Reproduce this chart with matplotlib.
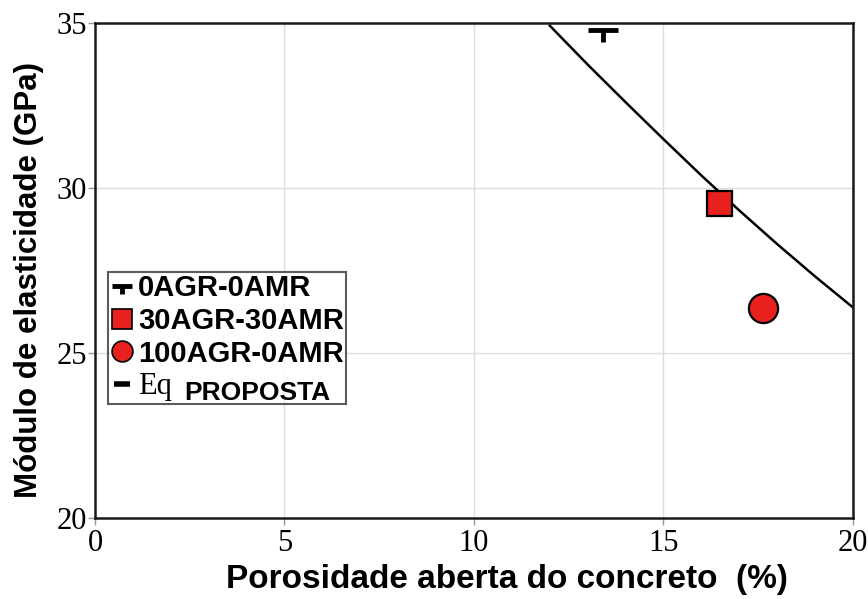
import matplotlib.pyplot as plt
import numpy as np
from matplotlib.path import Path
from matplotlib.lines import Line2D

# measured points (porosity %, modulus GPa)
por_0agr = [13.4]
mod_0agr = [34.78]
por_30agr = [16.46]
mod_30agr = [29.54]
por_100agr = [17.63]
mod_100agr = [26.35]

# proposed equation, sampled along its curve
por_eq = [12.0, 13.0, 14.0, 15.0, 16.0, 17.0, 18.0, 19.0, 20.0]
mod_eq = [34.92, 33.74, 32.60, 31.48, 30.38, 29.32, 28.30, 27.32, 26.38]

# T shaped marker: bar on top, short stem below
t_marker = Path([(-1, 0), (1, 0), (0, 0), (0, -0.8)],
                [Path.MOVETO, Path.LINETO, Path.MOVETO, Path.LINETO])

red = '#e8201e'

fig = plt.figure(figsize=(8.68, 5.99), dpi=100)
ax = fig.add_axes([0.1094, 0.1352, 0.8733, 0.8264])

ax.plot(por_eq, mod_eq, color='black', lw=1.8, zorder=2)
ax.plot(por_0agr, mod_0agr, linestyle='none', marker=t_marker, markersize=21,
        markeredgewidth=3.5, color='black', zorder=3)
ax.plot(por_30agr, mod_30agr, linestyle='none', marker='s', markersize=18,
        markerfacecolor=red, markeredgecolor='black', markeredgewidth=1.6, zorder=3)
ax.plot(por_100agr, mod_100agr, linestyle='none', marker='o', markersize=21,
        markerfacecolor=red, markeredgecolor='black', markeredgewidth=1.6, zorder=3)

ax.set_xlim(0, 20)
ax.set_ylim(20, 35)
ax.set_xticks([0, 5, 10, 15, 20])
ax.set_yticks([20, 25, 30, 35])
ax.grid(True, color='#dadde2', lw=1.0)
ax.set_axisbelow(True)
ax.tick_params(direction='out', length=5, width=1, color='#8a9aa8', pad=1,
               labelsize=22)
ax.tick_params(axis='x', pad=3)
for lab in ax.get_xticklabels() + ax.get_yticklabels():
    lab.set_family('Liberation Serif')
for sp in ax.spines.values():
    sp.set_linewidth(1.8)
    sp.set_color('#1a1a1a')

ax.set_xlabel('Porosidade aberta do concreto  (%)', fontsize=24,
              fontweight='bold', family='Liberation Sans', labelpad=4)
ax.set_ylabel('Módulo de elasticidade (GPa)', fontsize=22.5,
              fontweight='bold', family='Liberation Sans', labelpad=9)
ax.xaxis.label.set_x(0.543)
ax.yaxis.label.set_y(0.48)

handles = [
    Line2D([], [], linestyle='none', marker=t_marker, markersize=15,
           markeredgewidth=3.5, color='black'),
    Line2D([], [], linestyle='none', marker='s', markersize=14,
           markerfacecolor=red, markeredgecolor='black', markeredgewidth=1.2),
    Line2D([], [], linestyle='none', marker='o', markersize=15,
           markerfacecolor=red, markeredgecolor='black', markeredgewidth=1.2),
    Line2D([], [], linestyle='none', marker='_', markersize=12,
           markeredgewidth=4, color='black'),
]
labels = ['0AGR-0AMR', '30AGR-30AMR', '100AGR-0AMR', 'Eq']
leg = ax.legend(handles, labels, loc='upper left', bbox_to_anchor=(0.017, 0.497),
                borderaxespad=0, frameon=True, fancybox=False, handlelength=0.8,
                handletextpad=0.15, borderpad=0.08, labelspacing=0.16,
                prop={'family': 'Liberation Sans', 'weight': 'bold', 'size': 21})
leg.get_frame().set_edgecolor('#333333')
leg.get_frame().set_linewidth(1.5)
eq_text = leg.get_texts()[3]
eq_text.set_family('Liberation Serif')
eq_text.set_fontweight('normal')
eq_text.set_fontsize(22)

# "PROPOSTA" sits after "Eq" in a smaller bold sans, slightly lowered
fig.canvas.draw()
renderer = fig.canvas.get_renderer()
bx, by = eq_text.get_transform().transform(eq_text.get_position())
eq_box = eq_text.get_window_extent(renderer)
fig.text((eq_box.x1 + 12) / fig.bbox.width, (by - 6) / fig.bbox.height,
         'PROPOSTA', family='Liberation Sans', fontweight='bold', fontsize=19,
         ha='left', va='baseline', zorder=10)

fig.savefig('out.png', dpi=100)
